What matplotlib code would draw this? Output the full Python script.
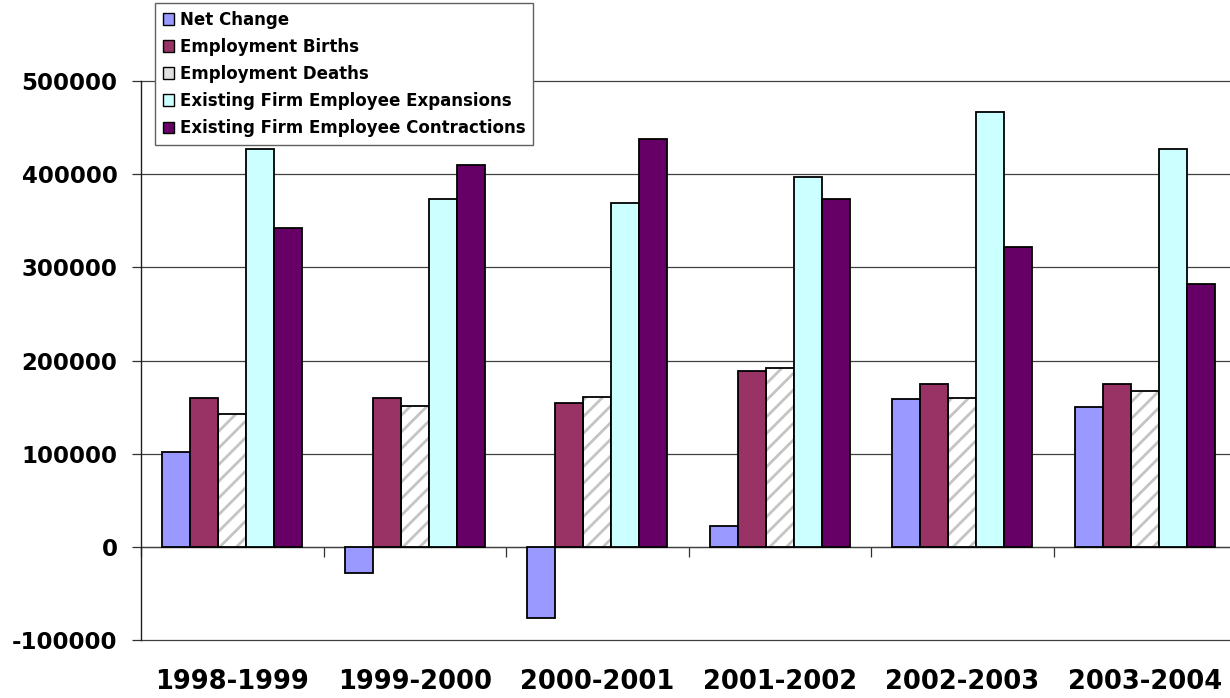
import matplotlib
matplotlib.use("Agg")
import matplotlib.pyplot as plt
from matplotlib.patches import Patch
import numpy as np

plt.rcParams['font.family'] = ['DejaVu Sans']
plt.rcParams['hatch.linewidth'] = 2.0

categories = ["1998-1999", "1999-2000", "2000-2001", "2001-2002", "2002-2003", "2003-2004"]
series_names = ["Net Change", "Employment Births", "Employment Deaths",
                "Existing Firm Employee Expansions", "Existing Firm Employee Contractions"]
net_change = [102000, -28000, -76000, 22000, 159000, 150000]
births = [160000, 160000, 154000, 189000, 175000, 175000]
deaths = [143000, 151000, 161000, 192000, 160000, 167000]
expansions = [427000, 373000, 369000, 397000, 467000, 427000]
contractions = [342000, 410000, 438000, 373000, 322000, 282000]
yticks = [-100000, 0, 100000, 200000, 300000, 400000, 500000]

series = [net_change, births, deaths, expansions, contractions]
colors = ["#9999FF", "#993366", "#FFFFFF", "#CCFFFF", "#660066"]

fig = plt.figure(figsize=(12.3, 6.98), dpi=100)
ax = fig.add_axes([141/1230, 1-640/698, 1095/1230, (640-81)/698])

x = np.arange(len(categories))
bw = 28/182.5
offsets = (np.arange(5) - 2) * bw
ax.set_axisbelow(True)
for i, (vals, col) in enumerate(zip(series, colors)):
    if i == 2:
        ax.bar(x + offsets[i], vals, bw, color="white", edgecolor="#C4C4C4",
               hatch="//", linewidth=0, zorder=2)
        ax.bar(x + offsets[i], vals, bw, fill=False, edgecolor="black",
               linewidth=1.3, zorder=3)
    else:
        ax.bar(x + offsets[i], vals, bw, color=col, edgecolor="black",
               linewidth=1.3, zorder=3)

ax.set_xlim(-0.5, len(categories) - 0.5)
ax.set_ylim(yticks[0], yticks[-1])
ax.set_yticks(yticks)
ax.set_yticklabels([str(v) for v in yticks], fontsize=16.5, fontweight="bold")
ax.tick_params(axis="y", direction="out", length=6.5, width=0.9, pad=10.5, color="#303030")
ax.set_xticks(x)
ax.set_xticklabels(categories, fontsize=18.5, fontweight="bold")
ax.tick_params(axis="x", length=0, pad=21)
ax.yaxis.grid(True, color="#404040", linewidth=0.9, zorder=0)
for gl in ax.get_ygridlines():
    gl.set_clip_on(False)
for s in ["top", "right", "bottom"]:
    ax.spines[s].set_visible(False)
ax.spines["left"].set_color("#202020")
ax.spines["left"].set_linewidth(1.0)

sec = ax.secondary_xaxis(1/6)
sec.set_xticks(np.arange(-0.5, len(categories), 1.0))
sec.set_xticklabels([])
sec.tick_params(axis="x", direction="out", length=7, width=0.9, color="#303030")
sec.spines["bottom"].set_color("#404040")
sec.spines["bottom"].set_linewidth(0.9)

handles = []
for i, col in enumerate(colors):
    if i == 2:
        handles.append(Patch(facecolor="#E0E0E0", edgecolor="black", linewidth=1.0))
    else:
        handles.append(Patch(facecolor=col, edgecolor="black", linewidth=1.0))
leg = fig.legend(handles, series_names, loc="upper left",
                 bbox_to_anchor=(155/1230, 1-3/698),
                 prop={"weight": "bold", "size": 12},
                 frameon=True, fancybox=False, edgecolor="#606060", framealpha=1,
                 handlelength=0.7, handleheight=0.7, handletextpad=0.35,
                 labelspacing=0.55, borderpad=0.45, borderaxespad=0)
leg.get_frame().set_linewidth(1.0)

fig.savefig("out.png", dpi=100)
